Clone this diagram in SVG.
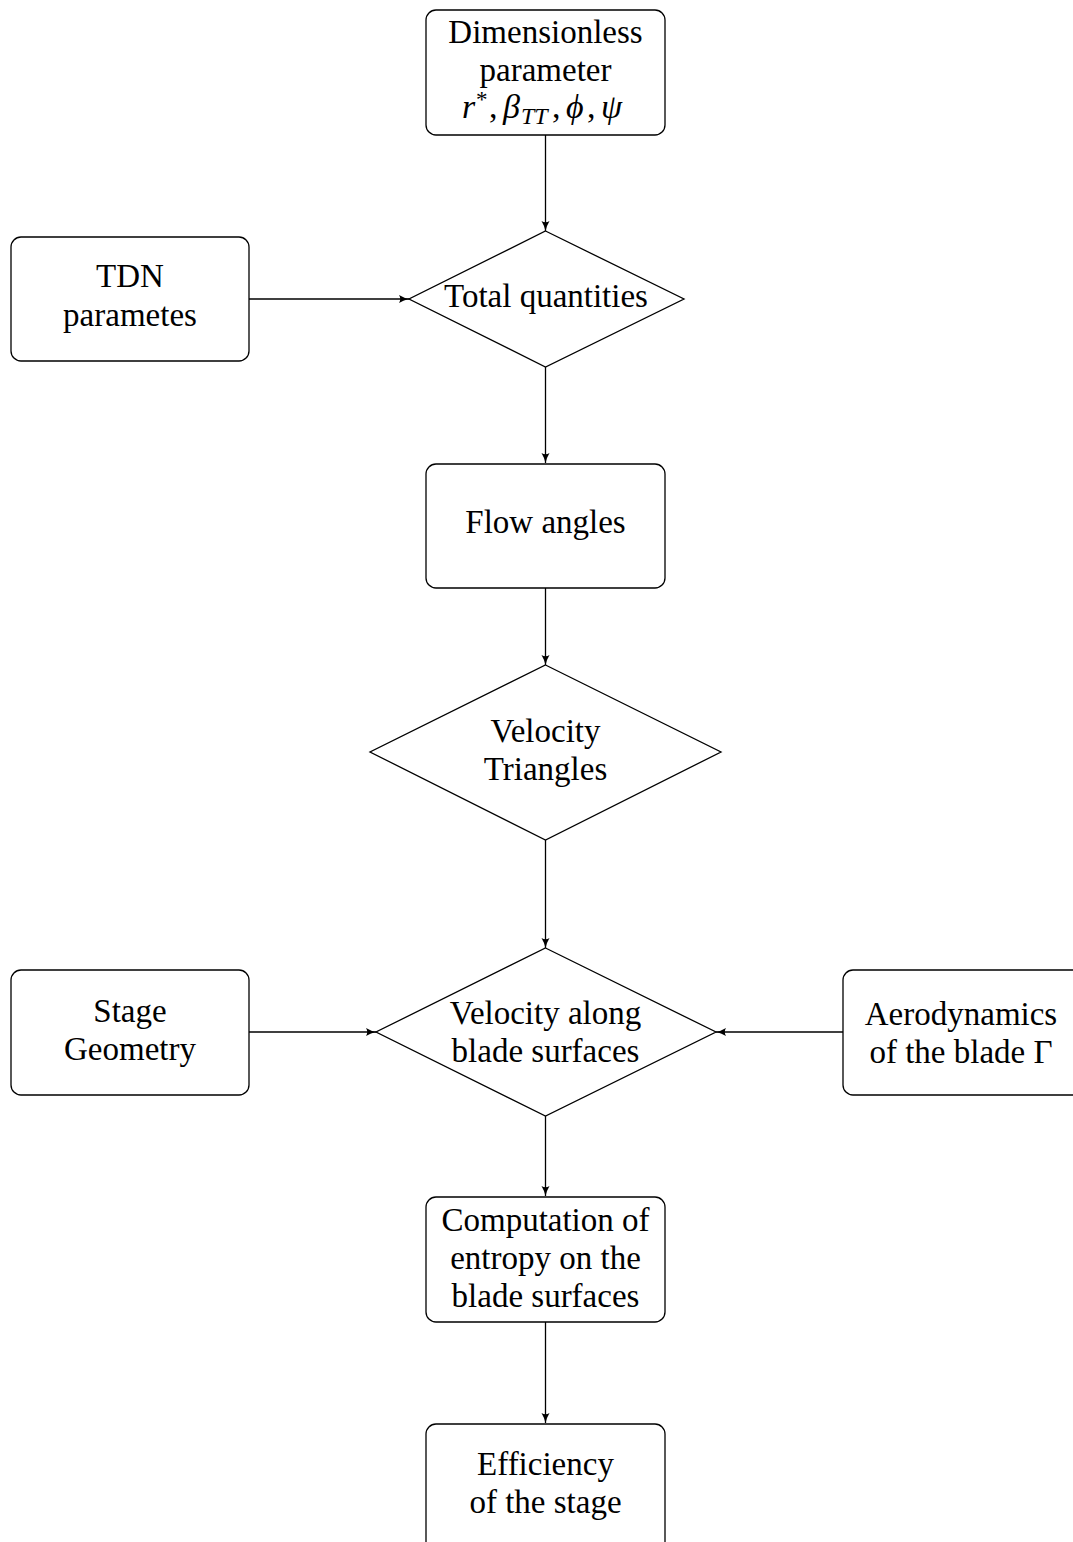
<svg xmlns="http://www.w3.org/2000/svg" width="1073" height="1542" viewBox="0 0 1073 1542">
<style>
.box{fill:#fff;stroke:#000;stroke-width:1.3}
.t{font-family:"Liberation Serif","Times New Roman",serif;font-size:33px;fill:#000;text-anchor:middle}
.m{font-family:"Liberation Serif","Times New Roman",serif;font-size:34px;fill:#000}
.e{stroke:#000;stroke-width:1.3;fill:none;marker-end:url(#ah)}
</style>
<defs>
<marker id="ah" markerUnits="userSpaceOnUse" markerWidth="11" markerHeight="9" refX="10" refY="4.5" orient="auto">
<path d="M0,0.5 Q5,3.5 10,4.5 Q5,5.5 0,8.5 Q2.5,4.5 0,0.5 z" fill="#000"/>
</marker>
</defs>
<rect width="1073" height="1542" fill="#fff"/>
<g id="connectors">
<line class="e" x1="545.5" y1="135" x2="545.5" y2="231"/>
<line class="e" x1="249" y1="299" x2="409" y2="299"/>
<line class="e" x1="545.5" y1="367" x2="545.5" y2="463"/>
<line class="e" x1="545.5" y1="588" x2="545.5" y2="665"/>
<line class="e" x1="545.5" y1="840" x2="545.5" y2="948"/>
<line class="e" x1="249" y1="1032" x2="376" y2="1032"/>
<line class="e" x1="843" y1="1032" x2="716" y2="1032"/>
<line class="e" x1="545.5" y1="1116" x2="545.5" y2="1196"/>
<line class="e" x1="545.5" y1="1322" x2="545.5" y2="1423"/>
</g>
<g id="dimensionless">
<rect class="box" x="426" y="10" width="239" height="125" rx="10"/>
<text class="t" x="545.5" y="43">Dimensionless</text>
<text class="t" x="545.5" y="81">parameter</text>
<text class="m" y="118"><tspan x="462" font-style="italic">r</tspan><tspan x="476" y="107" font-size="23">*</tspan><tspan x="489" y="118">,</tspan><tspan x="503" font-style="italic">β</tspan><tspan x="521" y="124" font-size="24" font-style="italic">TT</tspan><tspan x="552" y="118">,</tspan><tspan x="566" font-style="italic">ϕ</tspan><tspan x="587">,</tspan><tspan x="601" font-style="italic">ψ</tspan></text>
</g>
<g id="tdn">
<rect class="box" x="11" y="237" width="238" height="124" rx="10"/>
<text class="t" x="130" y="287">TDN</text>
<text class="t" x="130" y="326">parametes</text>
</g>
<g id="total">
<polygon class="box" points="545.5,231 684,299 545.5,367 409,299"/>
<text class="t" x="546" y="307">Total quantities</text>
</g>
<g id="flow">
<rect class="box" x="426" y="464" width="239" height="124" rx="10"/>
<text class="t" x="545.5" y="533">Flow angles</text>
</g>
<g id="triangles">
<polygon class="box" points="545.5,665 721,752 545.5,840 370,752"/>
<text class="t" x="545.5" y="742">Velocity</text>
<text class="t" x="545.5" y="780">Triangles</text>
</g>
<g id="along">
<polygon class="box" points="545.5,948 716,1032 545.5,1116 376,1032"/>
<text class="t" x="545.5" y="1024">Velocity along</text>
<text class="t" x="545.5" y="1062">blade surfaces</text>
</g>
<g id="stage">
<rect class="box" x="11" y="970" width="238" height="125" rx="10"/>
<text class="t" x="130" y="1022">Stage</text>
<text class="t" x="130" y="1060">Geometry</text>
</g>
<g id="aero">
<rect class="box" x="843" y="970" width="240" height="125" rx="10"/>
<text class="t" x="961" y="1025">Aerodynamics</text>
<text class="t" x="961" y="1063">of the blade Γ</text>
</g>
<g id="entropy">
<rect class="box" x="426" y="1197" width="239" height="125" rx="10"/>
<text class="t" x="545.5" y="1231">Computation of</text>
<text class="t" x="545.5" y="1269">entropy on the</text>
<text class="t" x="545.5" y="1307">blade surfaces</text>
</g>
<g id="efficiency">
<rect class="box" x="426" y="1424" width="239" height="150" rx="10"/>
<text class="t" x="545.5" y="1475">Efficiency</text>
<text class="t" x="545.5" y="1513">of the stage</text>
</g>
</svg>
